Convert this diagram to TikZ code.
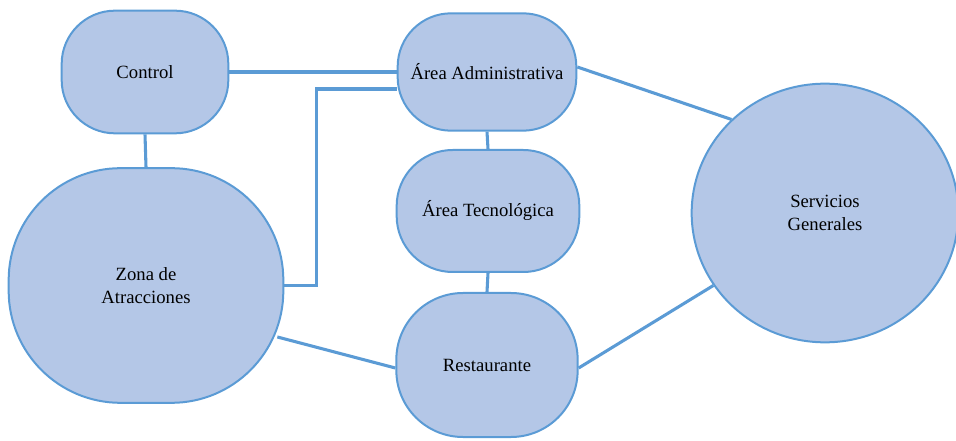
\documentclass[tikz,border=0pt]{standalone}
\usepackage{fontspec}
\setmainfont{Liberation Serif}
\usetikzlibrary{shapes.geometric}
\definecolor{zonefill}{HTML}{B4C7E7}
\definecolor{zoneline}{HTML}{5B9BD5}

\begin{document}
\begin{tikzpicture}[x=0.75pt, y=-0.75pt,
  area/.style={draw=zoneline, fill=zonefill, line width=1.5pt, align=center, inner sep=0pt, font=\fontsize{14}{17}\selectfont},
  link/.style={draw=zoneline, line width=2.3pt}]
\useasboundingbox (0,0) rectangle (956,441);
% Left column
\node[area, rounded corners=40pt, minimum width=125pt, minimum height=92pt] (ctrl) at (145,72) {Control};
\node[area, rounded corners=84pt, minimum width=206pt, minimum height=176pt] (zona) at (146,285.5) {Zona de\\Atracciones};
% Middle column
\node[area, rounded corners=40pt, minimum width=134pt, minimum height=88pt] (admin) at (487,72) {Área Administrativa};
\node[area, rounded corners=42pt, minimum width=137pt, minimum height=91.5pt] (tecno) at (488,211) {Área Tecnológica};
\node[area, rounded corners=50pt, minimum width=136pt, minimum height=108pt] (rest) at (487,365) {Restaurante};
% Right side
\node[area, ellipse, minimum width=200pt, minimum height=194pt] (serv) at (825,213) {Servicios\\Generales};
% Connectors
\draw[link] (ctrl.east) -- (admin.west);
\draw[link] (ctrl.south) -- (zona.north);
\draw[link] (zona.east) -- ++(32,0) |- ([yshift=-12.75pt]admin.west);
\draw[link] ([xshift=-5.25pt, yshift=-38.6pt]zona.east) -- ([yshift=-2.25pt]rest.west);
\draw[link] (admin.south) -- (tecno.north);
\draw[link] (tecno.south) -- (rest.north);
\draw[link] ([yshift=3.75pt]admin.east) -- (serv.135);
\draw[link] ([yshift=-2.25pt]rest.east) -- (serv.213);
\end{tikzpicture}
\end{document}
